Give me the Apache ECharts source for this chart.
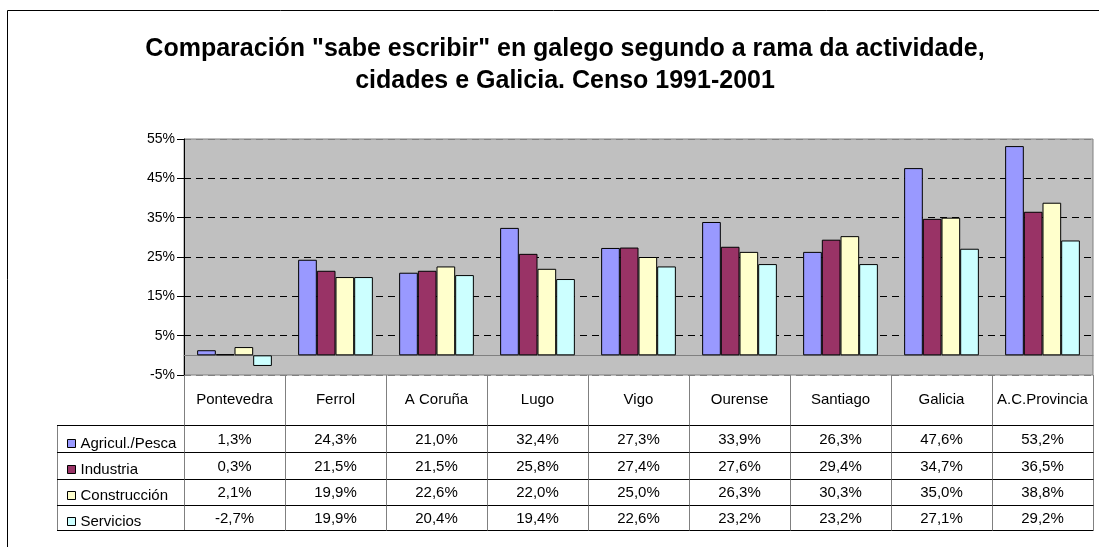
<!DOCTYPE html>
<html>
<head>
<meta charset="utf-8">
<script src="https://cdn.jsdelivr.net/npm/echarts@6/dist/echarts.min.js"></script>
<style>
  html, body { margin: 0; padding: 0; background: #fff; }
  #main { width: 1099px; height: 547px; }
</style>
</head>
<body>
<div id="main"></div>
<script>
// datos
const cities = ['Pontevedra', 'Ferrol', 'A Coruña', 'Lugo', 'Vigo', 'Ourense', 'Santiago', 'Galicia', 'A.C.Provincia']
const seriesNames = ['Agricul./Pesca', 'Industria', 'Construcción', 'Servicios']
const agricul = [1.3, 24.3, 21.0, 32.4, 27.3, 33.9, 26.3, 47.6, 53.2]
const industria = [0.3, 21.5, 21.5, 25.8, 27.4, 27.6, 29.4, 34.7, 36.5]
const construccion = [2.1, 19.9, 22.6, 22.0, 25.0, 26.3, 30.3, 35.0, 38.8]
const servicios = [-2.7, 19.9, 20.4, 19.4, 22.6, 23.2, 23.2, 27.1, 29.2]
const yMin = -5
const yMax = 55
const yStep = 10

const values = [agricul, industria, construccion, servicios]
const colors = ['#9999FF', '#993366', '#FFFFCC', '#CCFFFF']
const font = '"Liberation Sans", Arial, sans-serif'

// filas da táboa (px)
const rowEdges = [375, 425, 452, 479, 505, 530]
const leftCol = 57

const fmt = v => v.toFixed(1).replace('.', ',') + '%'

const chart = echarts.init(document.getElementById('main'))

const barSeries = seriesNames.map((name, k) => ({
  name: name,
  type: 'bar',
  data: values[k],
  barGap: '0%',
  barCategoryGap: '26%',
  itemStyle: { color: colors[k], borderColor: '#000', borderWidth: 1 },
  emphasis: { disabled: true }
}))

// táboa de datos debaixo do gráfico
const tableSeries = {
  type: 'custom',
  silent: true,
  clip: false,
  z: 5,
  data: cities.map((c, i) => [i, 0]),
  encode: { x: 0, y: 1 },
  renderItem: function (params, api) {
    const i = api.value(0)
    const cx = api.coord([i, 0])[0]
    const w = api.size([1, 0])[0]
    const x0 = Math.round(cx - w / 2) + 0.5
    const x1 = Math.round(cx + w / 2) + 0.5
    const children = []
    children.push({ type: 'line', shape: { x1: x0, y1: rowEdges[0], x2: x0, y2: rowEdges[5] }, style: { stroke: '#808080', lineWidth: 1 } })
    if (i === cities.length - 1) {
      children.push({ type: 'line', shape: { x1: x1, y1: rowEdges[0], x2: x1, y2: rowEdges[5] }, style: { stroke: '#808080', lineWidth: 1 } })
    }
    for (let r = 1; r < rowEdges.length; r++) {
      const y = rowEdges[r] + 0.5
      children.push({ type: 'line', shape: { x1: x0, y1: y, x2: x1, y2: y }, style: { stroke: '#000', lineWidth: 1 } })
    }
    children.push({
      type: 'text',
      style: { text: cities[i], x: cx, y: (rowEdges[0] + rowEdges[1]) / 2, align: 'center', verticalAlign: 'middle', font: '15px ' + font, fill: '#000' }
    })
    for (let k = 0; k < values.length; k++) {
      children.push({
        type: 'text',
        style: { text: fmt(values[k][i]), x: cx, y: (rowEdges[k + 1] + rowEdges[k + 2]) / 2 + 1, align: 'center', verticalAlign: 'middle', font: '15px ' + font, fill: '#000' }
      })
    }
    return { type: 'group', children: children }
  }
}

// marco e columna da esquerda
const leftGraphics = [
  { type: 'rect', shape: { x: 7.5, y: 10.5, width: 1100, height: 545 }, style: { fill: 'none', stroke: '#000', lineWidth: 1 }, silent: true },
  { type: 'line', shape: { x1: leftCol + 0.5, y1: rowEdges[1], x2: leftCol + 0.5, y2: rowEdges[5] }, style: { stroke: '#808080', lineWidth: 1 }, silent: true }
]
for (let r = 1; r < rowEdges.length; r++) {
  leftGraphics.push({ type: 'line', shape: { x1: leftCol, y1: rowEdges[r] + 0.5, x2: 185, y2: rowEdges[r] + 0.5 }, style: { stroke: '#000', lineWidth: 1 }, silent: true })
}

const option = {
  animation: false,
  backgroundColor: '#fff',
  title: {
    text: 'Comparación "sabe escribir" en galego segundo a rama da actividade,\ncidades e Galicia. Censo 1991-2001',
    left: 560,
    top: 28,
    textAlign: 'center',
    textStyle: { fontFamily: font, fontSize: 25, fontWeight: 'bold', color: '#000', lineHeight: 32 }
  },
  legend: {
    data: seriesNames,
    orient: 'vertical',
    left: 62,
    top: 431,
    itemWidth: 8,
    itemHeight: 8,
    itemGap: 11,
    selectedMode: false,
    icon: 'rect',
    itemStyle: { borderColor: '#000', borderWidth: 1 },
    textStyle: { fontFamily: font, fontSize: 15, color: '#000' }
  },
  grid: {
    left: 184,
    top: 139,
    width: 909,
    height: 236,
    show: true,
    backgroundColor: '#C0C0C0',
    borderColor: '#808080',
    borderWidth: 1
  },
  xAxis: {
    type: 'category',
    data: cities,
    axisLine: { onZero: true, lineStyle: { color: '#808080', width: 1 } },
    axisTick: { show: false },
    axisLabel: { show: false },
    splitLine: { show: false }
  },
  yAxis: {
    type: 'value',
    min: yMin,
    max: yMax,
    interval: yStep,
    axisLine: { show: true, lineStyle: { color: '#000' } },
    axisTick: { show: true, length: 7, lineStyle: { color: '#000' } },
    axisLabel: { formatter: v => v + '%', fontFamily: font, fontSize: 14, color: '#000', margin: 9 },
    splitLine: {
      show: true,
      lineStyle: { type: [7, 5], color: ['#808080', '#000', '#000', '#000', '#000', '#000', '#808080'], width: 1 }
    }
  },
  graphic: leftGraphics,
  series: barSeries.concat([tableSeries])
}

chart.setOption(option)
</script>
</body>
</html>
